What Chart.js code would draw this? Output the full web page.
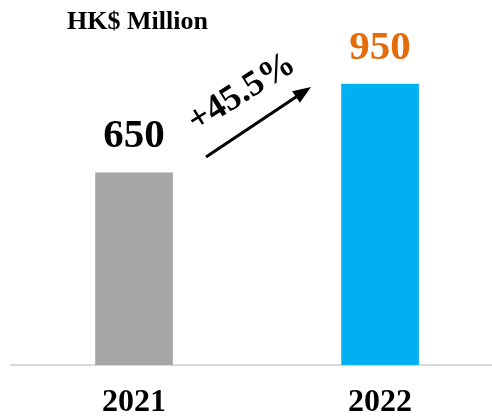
<!DOCTYPE html>
<html>
<head>
<meta charset="utf-8">
<script src="https://cdn.jsdelivr.net/npm/chart.js@4"></script>
<style>
  html, body { margin: 0; padding: 0; background: #fff; }
  #wrap { width: 492px; height: 416px; position: relative; }
</style>
</head>
<body>
<div id="wrap"><canvas id="revChart"></canvas></div>
<script>
const years = [2021, 2022];
const revenue = [650, 950];
const barColors = ['#a6a6a6', '#00b0f0'];
const valueColors = ['#000000', '#e46c0a'];
const unitLabel = 'HK$ Million';
const growthLabel = '+45.5%';

const SERIF = '"Liberation Serif", "Times New Roman", serif';

// labels, title and growth arrow
const extras = {
    id: 'extras',
    afterDatasetsDraw(chart) {
        const ctx = chart.ctx;
        const meta = chart.getDatasetMeta(0);
        ctx.save();

        // value labels above bars
        ctx.textAlign = 'center';
        ctx.textBaseline = 'middle';
        ctx.font = 'bold 41px ' + SERIF;
        meta.data.forEach((bar, i) => {
            ctx.fillStyle = valueColors[i];
            ctx.fillText(String(revenue[i]), bar.x, bar.y - 36);
        });

        // unit title
        ctx.fillStyle = '#000';
        ctx.textAlign = 'left';
        ctx.font = 'bold 26px ' + SERIF;
        ctx.fillText(unitLabel, 67, 22);

        // arrow
        const x1 = 206, y1 = 157, x2 = 311, y2 = 87;
        const ang = Math.atan2(y2 - y1, x2 - x1);
        ctx.strokeStyle = '#000';
        ctx.lineWidth = 3;
        ctx.beginPath();
        ctx.moveTo(x1, y1);
        ctx.lineTo(x2 - 14 * Math.cos(ang), y2 - 14 * Math.sin(ang));
        ctx.stroke();
        ctx.fillStyle = '#000';
        ctx.beginPath();
        ctx.moveTo(x2, y2);
        ctx.lineTo(x2 - 18 * Math.cos(ang) + 7 * Math.sin(ang), y2 - 18 * Math.sin(ang) - 7 * Math.cos(ang));
        ctx.lineTo(x2 - 18 * Math.cos(ang) - 7 * Math.sin(ang), y2 - 18 * Math.sin(ang) + 7 * Math.cos(ang));
        ctx.closePath();
        ctx.fill();

        // growth text
        ctx.translate(242, 93);
        ctx.rotate(-32 * Math.PI / 180);
        ctx.textAlign = 'center';
        ctx.font = 'bold 36px ' + SERIF;
        ctx.fillText(growthLabel, 0, 0);
        ctx.restore();
    }
};

new Chart(document.getElementById('revChart'), {
    type: 'bar',
    data: {
        datasets: [{
            data: years.map((y, i) => ({ x: y, y: revenue[i] })),
            backgroundColor: barColors,
            barThickness: 77,
            borderWidth: 0
        }]
    },
    options: {
        responsive: true,
        maintainAspectRatio: false,
        animation: false,
        layout: { padding: { left: 11, right: 0, top: 10, bottom: -25 } },
        plugins: { legend: { display: false }, tooltip: { enabled: false } },
        scales: {
            x: {
                type: 'linear',
                offset: false,
                min: 2020.5,
                max: 2022.455,
                afterBuildTicks: axis => { axis.ticks = years.map(v => ({ value: v })); },
                grid: { display: false, drawTicks: false, offset: false },
                border: { display: true, color: '#d9d9d9', width: 2 },
                ticks: {
                    color: '#000',
                    padding: 22,
                    maxRotation: 0,
                    autoSkip: false,
                    font: { family: SERIF, size: 32, weight: 'bold', lineHeight: 1 },
                    callback: v => String(v)
                }
            },
            y: {
                display: false,
                min: 0,
                max: 1200
            }
        }
    },
    plugins: [extras]
});
</script>
</body>
</html>
